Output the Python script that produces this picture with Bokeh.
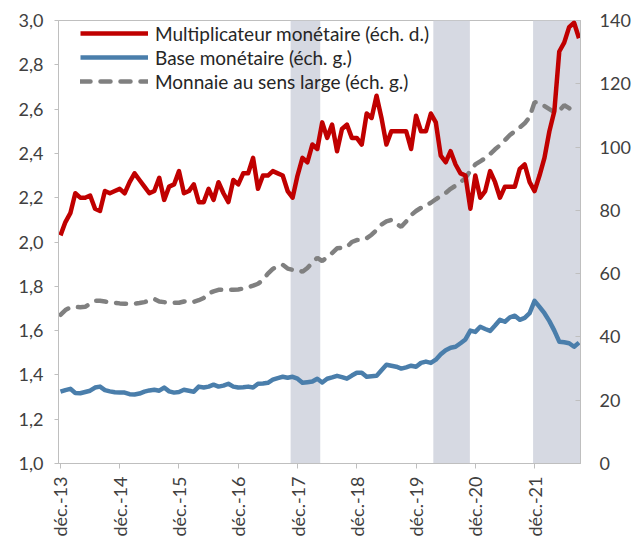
from bokeh.plotting import figure
from bokeh.models import Range1d, LinearAxis, FixedTicker, BoxAnnotation, Legend, LegendItem
from bokeh.embed import file_html
from bokeh.resources import INLINE

# ---- data (monthly, index 0 = déc. 2013) ----
multiplicateur = [
    2.03, 2.09, 2.13, 2.22, 2.20, 2.20, 2.21, 2.15, 2.14, 2.23,
    2.22, 2.23, 2.24, 2.22, 2.27, 2.31, 2.28, 2.25, 2.22, 2.23,
    2.29, 2.19, 2.25, 2.26, 2.32, 2.22, 2.23, 2.26, 2.18, 2.18,
    2.24, 2.19, 2.27, 2.22, 2.18, 2.28, 2.26, 2.31, 2.31, 2.38,
    2.24, 2.30, 2.30, 2.32, 2.31, 2.30, 2.23, 2.20, 2.30, 2.38,
    2.36, 2.44, 2.42, 2.54, 2.47, 2.53, 2.41, 2.51, 2.53, 2.47,
    2.47, 2.44, 2.58, 2.56, 2.66, 2.56, 2.44, 2.50, 2.50, 2.50,
    2.50, 2.42, 2.57, 2.50, 2.50, 2.58, 2.54, 2.39, 2.36, 2.41,
    2.35, 2.31, 2.30, 2.15, 2.30, 2.20, 2.23, 2.32, 2.27, 2.20,
    2.25, 2.25, 2.25, 2.33, 2.35, 2.27, 2.23, 2.30, 2.38, 2.50,
    2.59, 2.86, 2.90, 2.97, 2.99, 2.92,
]
base = [
    22.7, 23.2, 23.6, 22.3, 22.2, 22.6, 23.0, 24.0, 24.3, 23.2,
    22.8, 22.5, 22.4, 22.4, 21.9, 21.8, 22.1, 22.7, 23.1, 23.3,
    23.0, 24.0, 22.8, 22.4, 22.6, 23.3, 23.0, 22.7, 24.3, 24.0,
    24.3, 24.9, 24.3, 24.6, 25.2, 24.3, 24.0, 24.1, 24.3, 24.0,
    25.2, 25.3, 25.5, 26.5, 27.0, 27.4, 27.1, 27.4, 26.8, 25.5,
    25.7, 25.9, 26.8, 25.6, 26.8, 27.2, 27.7, 27.3, 26.8, 27.8,
    28.7, 28.7, 27.4, 27.6, 27.7, 29.5, 31.2, 30.9, 30.6, 30.0,
    30.4, 30.9, 30.6, 31.8, 32.2, 31.8, 32.8, 34.5, 35.8, 36.6,
    36.9, 38.0, 39.2, 42.0, 41.6, 43.2, 42.5, 41.9, 43.6, 45.4,
    44.8, 46.2, 46.7, 45.4, 46.0, 47.5, 51.4, 49.5, 47.5, 45.0,
    42.0, 38.5, 38.3, 38.0, 36.9, 38.2,
]
monnaie = [
    47.0, 48.5, 49.3, 49.5, 49.4, 49.5, 50.5, 51.4, 51.4, 51.2,
    51.0, 50.8, 50.6, 50.5, 50.5, 50.5, 50.7, 51.0, 51.5, 52.0,
    51.2, 51.0, 50.8, 50.8, 50.8, 51.2, 51.4, 51.1, 51.6, 52.3,
    53.8, 54.4, 54.9, 54.9, 54.9, 54.9, 55.0, 55.3, 55.7, 56.2,
    56.8, 58.0, 60.0, 61.5, 62.3, 62.8, 61.6, 61.2, 61.2, 60.6,
    61.8, 63.5, 65.0, 64.0, 65.2, 66.5, 68.0, 68.2, 68.4, 70.0,
    70.6, 70.6, 71.2, 72.3, 73.8, 75.5, 76.5, 77.0, 75.8, 74.8,
    76.5, 78.5, 79.8, 80.8, 81.6, 82.4, 83.5, 84.5, 85.5, 86.8,
    87.8, 88.9, 90.2, 92.5, 94.5, 95.5, 96.5, 97.8, 99.3, 100.6,
    102.2, 103.8, 105.0, 106.2, 107.5, 109.5, 114.2, 114.0, 113.0, 112.0,
    111.0, 111.5, 113.2, 112.3, 110.7,
]
mois_mult = list(range(len(multiplicateur)))
mois_base = list(range(len(base)))
mois_monnaie = list(range(len(monnaie)))

# shaded periods (month index bounds)
zones_debut = [46.6, 75.5, 95.7]
zones_fin = [52.6, 82.9, 106.0]

x_ticks = [0, 12, 24, 36, 48, 60, 72, 84, 96]
x_labels = ["déc.-13", "déc.-14", "déc.-15", "déc.-16", "déc.-17",
            "déc.-18", "déc.-19", "déc.-20", "déc.-21"]
left_ticks = [1.0, 1.2, 1.4, 1.6, 1.8, 2.0, 2.2, 2.4, 2.6, 2.8, 3.0]
left_labels = ["1,0", "1,2", "1,4", "1,6", "1,8", "2,0", "2,2", "2,4", "2,6", "2,8", "3,0"]
right_ticks = [0, 20, 40, 60, 80, 100, 120, 140]
right_labels = ["0", "20", "40", "60", "80", "100", "120", "140"]

FONT = "Lato"
TXT = "#404040"
AX = "#BFBFBF"

p = figure(width=642, height=539, output_backend="svg", toolbar_location=None,
           x_range=Range1d(-0.4, 105.3), y_range=Range1d(1.0, 3.0),
           min_border_left=58, min_border_top=20, min_border_right=62, min_border_bottom=75)
p.extra_y_ranges = {"right": Range1d(0, 140)}
p.xgrid.visible = False
p.ygrid.visible = False
p.outline_line_color = AX
p.background_fill_color = "white"

for a, b in zip(zones_debut, zones_fin):
    p.add_layout(BoxAnnotation(left=a, right=b, fill_color="#D6D9E2", fill_alpha=1.0,
                               line_alpha=0, level="underlay"))

r_gray = p.line(mois_monnaie, monnaie, y_range_name="right", line_color="#808080",
                line_width=4.5, line_dash="10 10", line_cap="round")
r_blue = p.line(mois_base, base, y_range_name="right", line_color="#4A7EAB",
                line_width=4.5, line_join="round")
r_red = p.line(mois_mult, multiplicateur, line_color="#C00000", line_width=4.5,
               line_join="round")

# axes
xa = p.xaxis[0]
xa.ticker = FixedTicker(ticks=x_ticks)
xa.major_label_overrides = {t: l for t, l in zip(x_ticks, x_labels)}
xa.major_label_orientation = 3.14159265 / 2
ya = p.yaxis[0]
ya.ticker = FixedTicker(ticks=left_ticks)
ya.major_label_overrides = {t: l for t, l in zip(left_ticks, left_labels)}
ra = LinearAxis(y_range_name="right", ticker=FixedTicker(ticks=right_ticks))
ra.major_label_overrides = {t: l for t, l in zip(right_ticks, right_labels)}
p.add_layout(ra, "right")

for ax in (xa, ya, ra):
    ax.axis_line_color = AX
    ax.major_tick_line_color = AX
    ax.minor_tick_line_color = None
    ax.major_label_text_font = FONT
    ax.major_label_text_font_size = "18px"
    ax.major_label_text_color = TXT
xa.major_tick_out = 5
xa.major_tick_in = 0
xa.major_label_standoff = 8
ya.major_tick_out = 4
ya.major_tick_in = 0
ya.major_label_standoff = 11
ra.major_tick_out = 0
ra.major_tick_in = 5
ra.major_label_standoff = 19

legend = Legend(items=[
    LegendItem(label="Multiplicateur monétaire (éch. d.)", renderers=[r_red]),
    LegendItem(label="Base monétaire (éch. g.)", renderers=[r_blue]),
    LegendItem(label="Monnaie au sens large (éch. g.)", renderers=[r_gray]),
], location=(22, 370), orientation="vertical", padding=0, spacing=0, margin=0,
    label_height=24, glyph_height=24, glyph_width=68, label_standoff=7,
    border_line_alpha=0, background_fill_alpha=0,
    label_text_font=FONT, label_text_font_size="19px", label_text_color="#262626")
p.add_layout(legend)

open("out.html", "w").write(file_html(p, INLINE))
